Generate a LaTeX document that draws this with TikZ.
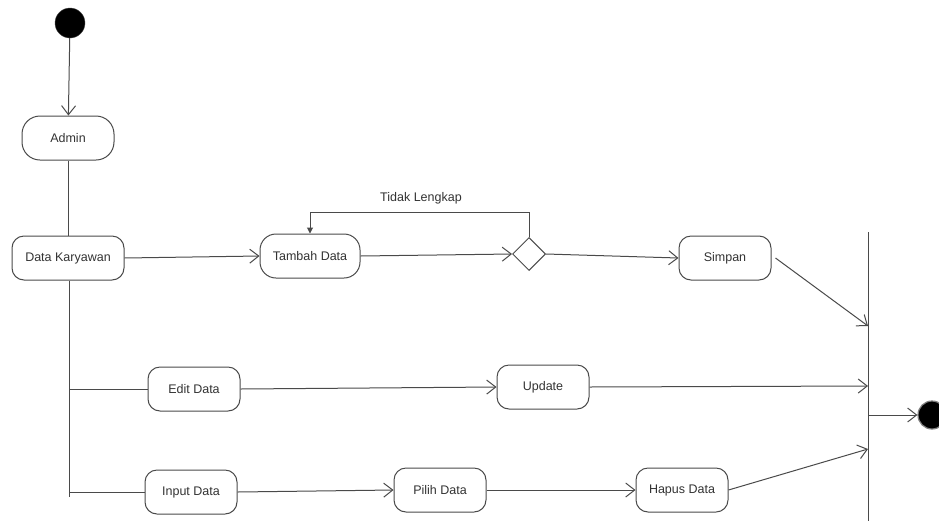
\documentclass[tikz,border=0pt]{standalone}
\usepackage{fontspec}
\setmainfont{Liberation Sans}
\usetikzlibrary{arrows.meta,shapes.geometric}
\definecolor{ln}{HTML}{4A4A4A}
\definecolor{tx}{HTML}{333333}
\tikzset{
  act/.style={draw=ln, line width=1pt, rounded corners=12pt, minimum width=92pt, minimum height=44pt, inner sep=2pt, text=tx, font=\fontsize{12.5}{14}\selectfont},
  flow/.style={draw=ln, line width=1pt, -{Straight Barb[length=9pt,width=14pt]}},
  plain/.style={draw=ln, line width=1pt},
}
\begin{document}
\begin{tikzpicture}[x=1pt,y=-1pt]
\useasboundingbox (0,0) rectangle (939,520);
\fill[white] (0,0) rectangle (939,520);
% start
\node (start) [circle, fill=black, draw=ln, minimum size=30pt, inner sep=0] at (70,23) {};
\node (admin) [act, rounded corners=18pt] at (68,138) {Admin};
\node (dk) [act, minimum width=112pt] at (68,258) {Data Karyawan};
\node (tambah) [act, minimum width=100pt, rounded corners=16pt] at (310,256) {Tambah Data};
\node (dia) [diamond, draw=ln, line width=1pt, aspect=1, minimum size=33pt, inner sep=0] at (529,254) {};
\node (simpan) [act] at (725,258) {Simpan};
\node (edit) [act] at (194,389) {Edit Data};
\node (update) [act] at (543,387) {Update};
\node (input) [act] at (191,492) {Input Data};
\node (pilih) [act] at (440,490) {Pilih Data};
\node (hapus) [act] at (682,490) {Hapus Data};
\node (end) [circle, fill=black, draw=gray, line width=1.2pt, minimum size=28pt, inner sep=0] at (932,415) {};
\node (lbl) [text=tx, font=\fontsize{12.5}{14}\selectfont] at (421,198) {Tidak Lengkap};
% join bar
\coordinate (bartop) at (868,232);
\coordinate (barbot) at (868,522);
\coordinate (j1) at (868,326);
\coordinate (j2) at (868,386);
\coordinate (j3) at (868,449);
\coordinate (j4) at (868,415);
\draw[plain] (bartop) -- (barbot);
% branch line
\coordinate (b1) at (69,389);
\coordinate (b2) at (69,492);
\coordinate (bend) at (69,497);
\draw[plain] (dk.south -| bend) -- (bend);
\draw[plain] (b1) -- (edit.west);
\draw[plain] (b2) -- (input.west);
% flows
\draw[flow] (start) -- (admin);
\draw[plain] (admin.south) -- (dk.north);
\draw[flow] (dk.east) -- (tambah.west);
\draw[flow] (tambah.east) -- (dia.west);
\draw[flow] (dia.east) -- (simpan.west);
\draw[plain, -{Triangle[length=6pt,width=6pt]}] (dia.north) -- ++(0,-25) -| (tambah.north);
\draw[flow] (simpan.east) ++(4,0) -- (j1);
\draw[flow] (edit.east) -- (update.west);
\draw[flow] (update.east) -- (j2);
\draw[flow] (input.east) -- (pilih.west);
\draw[flow] (pilih.east) -- (hapus.west);
\draw[flow] (hapus.east) -- (j3);
\draw[flow] (j4) -- (end.west);
\end{tikzpicture}
\end{document}
